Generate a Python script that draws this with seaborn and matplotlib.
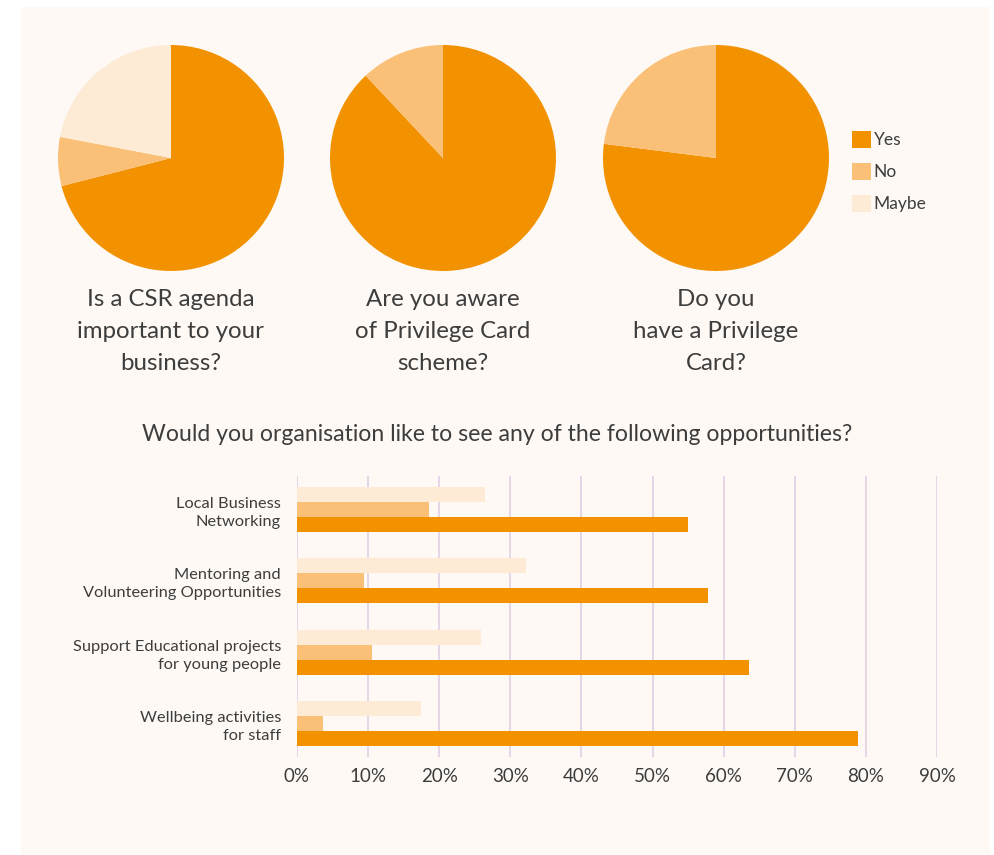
import matplotlib
matplotlib.use("Agg")
import matplotlib.pyplot as plt
from matplotlib.patches import Rectangle, Patch
import seaborn as sns
import pandas as pd

# ---- data -------------------------------------------------------------
answers = ["Yes", "No", "Maybe"]
answer_colors = {"Yes": "#F39200", "No": "#FAC078", "Maybe": "#FDEBD6"}

pie_questions = [
    "Is a CSR agenda\nimportant to your\nbusiness?",
    "Are you aware\nof Privilege Card\nscheme?",
    "Do you\nhave a Privilege\nCard?",
]
csr_important = [71, 7, 22]
aware_of_scheme = [88, 12, 0]
have_card = [77, 23, 0]
pie_values = [csr_important, aware_of_scheme, have_card]

opportunities = [
    "Local Business\nNetworking",
    "Mentoring and\nVolunteering Opportunities",
    "Support Educational projects\nfor young people",
    "Wellbeing activities\nfor staff",
]
opp_yes = [55.0, 57.8, 63.5, 78.9]
opp_no = [18.5, 9.4, 10.6, 3.7]
opp_maybe = [26.5, 32.2, 25.9, 17.4]
x_ticks = [0, 10, 20, 30, 40, 50, 60, 70, 80, 90]
x_tick_labels = [f"{t}%" for t in x_ticks]

bar_title = "Would you organisation like to see any of the following opportunities?"

# ---- style ------------------------------------------------------------
sns.set_style("white")
plt.rcParams["font.family"] = ["Lato", "DejaVu Sans"]
TEXT = "#3d3d3d"
PANEL = "#FEF9F5"
GRID = "#E2D0E6"

W, H = 995, 855
fig = plt.figure(figsize=(W / 100, H / 100), dpi=100)
fig.patch.set_facecolor("white")


def fx(px):
    return px / W


def fy(py):
    return 1 - py / H


# soft panel behind the whole infographic
fig.patches.append(Rectangle((fx(21), fy(854)), fx(990) - fx(21), fy(7) - fy(854),
                             transform=fig.transFigure, facecolor=PANEL,
                             edgecolor="none", zorder=-10))

# ---- pies -------------------------------------------------------------
pie_centers = [171, 443, 716]
pie_cy, pie_r = 158, 113
for cx, vals, q in zip(pie_centers, pie_values, pie_questions):
    ax = fig.add_axes([fx(cx - pie_r), fy(pie_cy + pie_r), 2 * pie_r / W, 2 * pie_r / H])
    ax.set_facecolor("none")
    ax.pie(vals, colors=[answer_colors[a] for a in answers],
           startangle=90, counterclock=False, wedgeprops=dict(linewidth=0))
    ax.set_xlim(-1, 1)
    ax.set_ylim(-1, 1)
    ax.set_aspect("equal")
    ax.axis("off")
    fig.text(fx(cx), fy(289), q, ha="center", va="top", fontsize=17.3,
             color=TEXT, linespacing=1.66)

handles = [Patch(facecolor=answer_colors[a], edgecolor="none") for a in answers]
fig.legend(handles, answers, loc="upper left", bbox_to_anchor=(fx(852), fy(131)),
           frameon=False, fontsize=12.5, handlelength=1.1, handleheight=1.1,
           handletextpad=0.15, labelspacing=0.85, labelcolor=TEXT,
           borderpad=0, borderaxespad=0)

# ---- grouped horizontal bars -----------------------------------------
df = pd.DataFrame({
    "opportunity": opportunities * 3,
    "answer": ["Yes"] * 4 + ["No"] * 4 + ["Maybe"] * 4,
    "value": opp_yes + opp_no + opp_maybe,
})

fig.text(fx(497), fy(424), bar_title, ha="center", va="top", fontsize=16.6, color=TEXT)

bx = fig.add_axes([fx(297), fy(757), (937 - 297) / W, (757 - 476) / H])
bx.set_facecolor("none")
sns.barplot(data=df, y="opportunity", x="value", hue="answer",
            hue_order=["Maybe", "No", "Yes"], order=opportunities,
            palette=answer_colors, orient="h", width=0.63, saturation=1,
            linewidth=0, legend=False, errorbar=None, ax=bx)
bx.set_xlim(0, 90)
bx.set_ylim(3.47, -0.47)
bx.set_xticks(x_ticks)
bx.set_xticklabels(x_tick_labels, fontsize=13.5, color=TEXT)
bx.tick_params(axis="y", labelsize=11.8, labelcolor=TEXT, length=0, pad=11.5)
bx.tick_params(axis="x", length=0, pad=8)
for lbl in bx.get_yticklabels():
    lbl.set_linespacing(1.35)
bx.set_xlabel("")
bx.set_ylabel("")
bx.xaxis.grid(True, color=GRID, linewidth=1.2)
bx.yaxis.grid(False)
bx.set_axisbelow(True)
for s in bx.spines.values():
    s.set_visible(False)

fig.savefig("out.png", dpi=100, facecolor="white")
